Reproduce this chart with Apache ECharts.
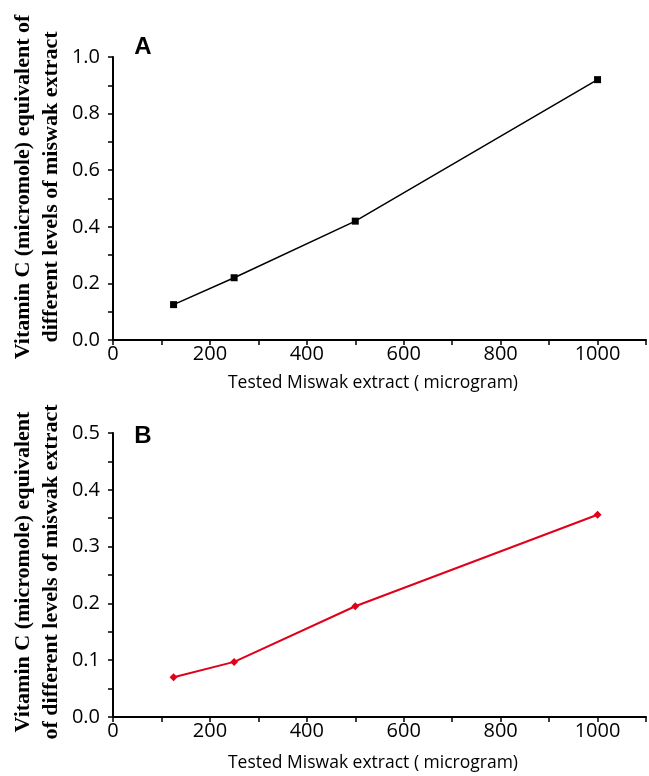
<!DOCTYPE html>
<html>
<head>
<meta charset="utf-8">
<script src="https://cdn.jsdelivr.net/npm/echarts@6/dist/echarts.min.js"></script>
<style>html,body{margin:0;padding:0;background:#fff;}#c{width:649px;height:776px;}</style>
</head>
<body>
<div id="c"></div>
<script>
var xValues = [125, 250, 500, 1000];
var seriesA = [0.125, 0.22, 0.42, 0.92];
var seriesB = [0.07, 0.097, 0.195, 0.356];
var xTitle = 'Tested Miswak extract ( microgram)';
var yTitleA = 'Vitamin C (micromole) equivalent of\ndifferent levels of miswak extract';
var yTitleB = 'Vitamin C (micromole) equivalent\nof different levels of miswak extract';

var chart = echarts.init(document.getElementById('c'), null, {renderer: 'canvas'});
var tickFont = {fontFamily: 'Open Sans', fontSize: 20, color: '#000'};
function xAxisCfg(gi) {
  return {
    type: 'value', gridIndex: gi, min: 0, max: 1100, interval: 100,
    axisLine: {lineStyle: {color: '#000', width: 2}},
    axisTick: {length: 5, lineStyle: {color: '#000', width: 1.5}},
    splitLine: {show: false},
    axisLabel: Object.assign({margin: 4, formatter: function (v) {
      return (Math.round(v) % 200 === 0 && v <= 1000) ? String(Math.round(v)) : '';
    }}, tickFont)
  };
}
function yAxisCfg(gi, max, step) {
  return {
    type: 'value', gridIndex: gi, min: 0, max: max, interval: step,
    axisLine: {lineStyle: {color: '#000', width: 2}},
    axisTick: {length: 5, lineStyle: {color: '#000', width: 1.5}},
    splitLine: {show: false},
    axisLabel: Object.assign({margin: 13, formatter: function (v) {
      var k = Math.round(v / step);
      return k % 2 === 0 ? v.toFixed(1) : '';
    }}, tickFont)
  };
}
function pairs(ys) { return xValues.map(function (x, i) { return [x, ys[i]]; }); }

chart.setOption({
  animation: false,
  grid: [
    {left: 113, width: 539, top: 57, height: 283},
    {left: 113, width: 534, top: 433, height: 284}
  ],
  xAxis: [xAxisCfg(0), xAxisCfg(1)],
  yAxis: [yAxisCfg(0, 1.0, 0.1), yAxisCfg(1, 0.5, 0.05)],
  series: [
    {type: 'line', xAxisIndex: 0, yAxisIndex: 0, data: pairs(seriesA),
     symbol: 'rect', symbolSize: 7, lineStyle: {color: '#000', width: 1.5},
     itemStyle: {color: '#000'}},
    {type: 'line', xAxisIndex: 1, yAxisIndex: 1, data: pairs(seriesB),
     symbol: 'diamond', symbolSize: 8, lineStyle: {color: '#e0001b', width: 2},
     itemStyle: {color: '#e0001b'}}
  ],
  graphic: [
    {type: 'text', x: 143, y: 47, style: {text: 'A', font: 'bold 24px "Liberation Sans"', fill: '#000', textAlign: 'center', textVerticalAlign: 'middle'}},
    {type: 'text', x: 143, y: 436, style: {text: 'B', font: 'bold 24px "Liberation Sans"', fill: '#000', textAlign: 'center', textVerticalAlign: 'middle'}},
    {type: 'text', x: 373, y: 383, style: {text: xTitle, font: '17.5px "Open Sans"', fill: '#000', textAlign: 'center', textVerticalAlign: 'middle'}},
    {type: 'text', x: 373, y: 763, style: {text: xTitle, font: '17.5px "Open Sans"', fill: '#000', textAlign: 'center', textVerticalAlign: 'middle'}},
    {type: 'text', x: 37, y: 187, rotation: Math.PI / 2, style: {text: yTitleA, font: 'bold 22px "Liberation Serif"', lineHeight: 28, fill: '#000', textAlign: 'center', textVerticalAlign: 'middle'}},
    {type: 'text', x: 37, y: 572, rotation: Math.PI / 2, style: {text: yTitleB, font: 'bold 22px "Liberation Serif"', lineHeight: 28, fill: '#000', textAlign: 'center', textVerticalAlign: 'middle'}}
  ]
});
</script>
</body>
</html>
